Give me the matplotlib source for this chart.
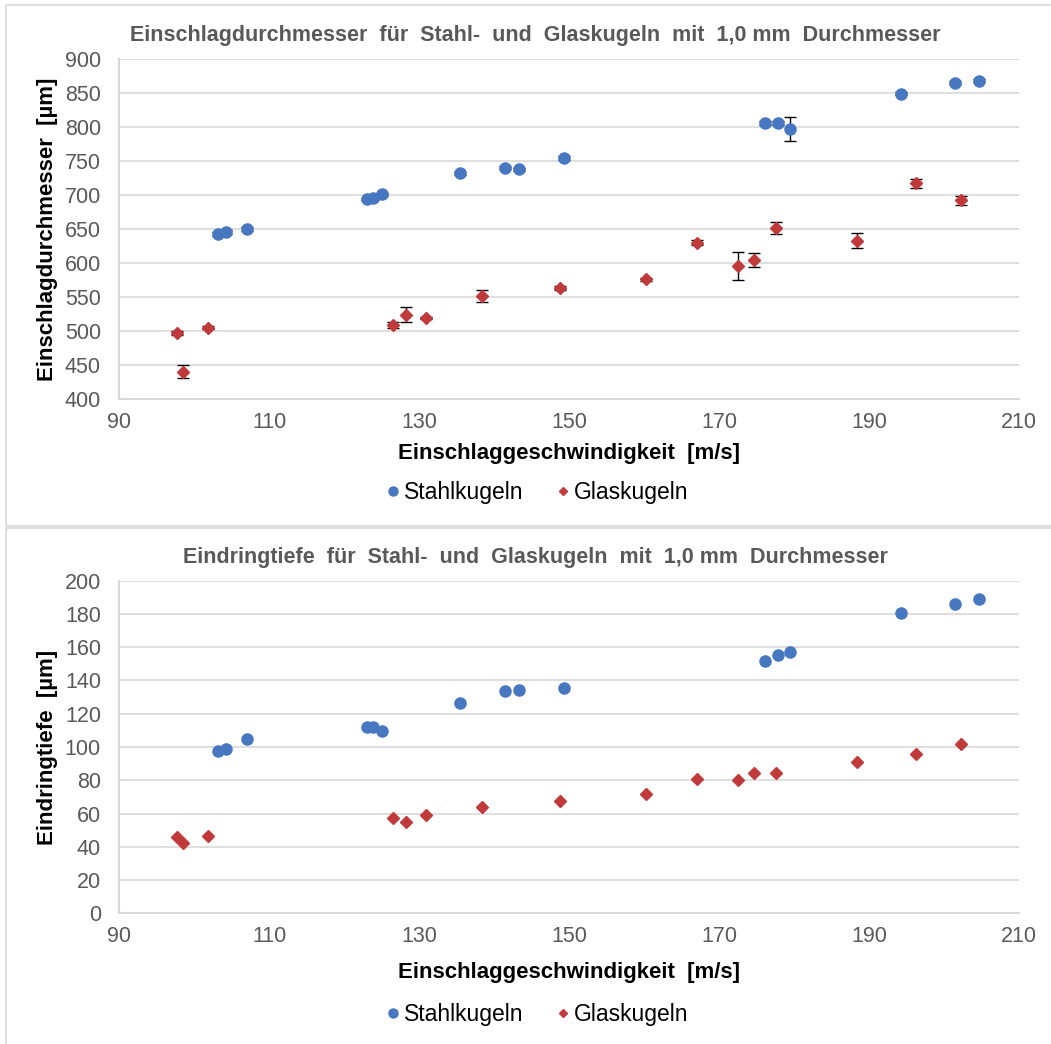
import numpy as np
import matplotlib.pyplot as plt
from matplotlib.lines import Line2D
from matplotlib.patches import Rectangle

plt.rcParams['font.family'] = ['Liberation Sans', 'DejaVu Sans']

# impact velocities [m/s]
v_steel = [103.2, 104.2, 107.1, 123.1, 123.9, 125.1, 135.5, 141.5, 143.3, 149.3,
           176.1, 177.8, 179.5, 194.3, 201.5, 204.7]
v_glass = [97.7, 98.5, 101.9, 126.5, 128.3, 130.9, 138.4, 148.8, 160.2, 167.1,
           172.5, 174.6, 177.6, 188.4, 196.2, 202.3]

# crater diameter [um] with error
d_steel = [642, 646, 650, 694, 695, 701, 732, 740, 738, 755,
           806, 806, 797, 849, 865, 868]
d_steel_err = [3, 3, 3, 2, 2, 2, 2, 2, 2, 3,
               3, 3, 17, 2, 2, 2]
d_glass = [497, 440, 505, 509, 524, 519, 551, 563, 576, 630,
           595, 604, 651, 633, 717, 692]
d_glass_err = [3, 9.5, 2, 4, 11, 2, 9, 3, 2, 4,
               20.5, 10, 9, 10.5, 7, 7]

# penetration depth [um]
t_steel = [97.6, 98.6, 104.6, 111.8, 111.8, 109.4, 126.6, 133.7, 134.5, 135.3,
           151.7, 155.5, 157.1, 180.6, 186.2, 189.2]
t_glass = [45.7, 42.5, 46.5, 57.5, 54.9, 58.9, 63.7, 67.7, 71.5, 80.8,
           80.2, 84.2, 84.2, 91.0, 95.8, 102.0]

blue = '#4677c0'
red = '#c0393b'
grey_txt = '#595959'
grid_c = '#d9d9d9'

W, H = 1051, 1044
fig = plt.figure(figsize=(W / 100, H / 100), dpi=100)

# chart frames
fig.patches.append(Rectangle((6 / W, 1 - 526 / H), 1.0, 521 / H, transform=fig.transFigure,
                             fill=False, edgecolor=grid_c, lw=1.2))
fig.patches.append(Rectangle((6 / W, -0.01), 1.0, 1 - 526 / H + 0.008, transform=fig.transFigure,
                             fill=False, edgecolor=grid_c, lw=1.2))

ax1 = fig.add_axes([119 / W, 1 - 399 / H, 900 / W, 340 / H])
ax2 = fig.add_axes([119 / W, 1 - 913.3 / H, 900 / W, 332.6 / H])


def style(ax, ylim, step):
    ax.set_xlim(90, 210)
    ax.set_xticks(np.arange(90, 211, 20))
    ax.set_ylim(*ylim)
    ax.set_yticks(np.arange(ylim[0], ylim[1] + 1, step))
    for s in ['top', 'right']:
        ax.spines[s].set_visible(False)
    for s in ['left', 'bottom']:
        ax.spines[s].set_color(grid_c)
        ax.spines[s].set_linewidth(1.5)
    ax.grid(axis='y', color=grid_c, lw=1.2)
    ax.set_axisbelow(True)
    ax.tick_params(length=0, labelsize=15.5, labelcolor=grey_txt)
    ax.tick_params(axis='y', pad=13)
    ax.tick_params(axis='x', pad=9)


style(ax1, (400, 900), 50)
ax1.errorbar(v_steel, d_steel, yerr=d_steel_err, fmt='o', color=blue, ms=8,
             ecolor='black', elinewidth=1, capsize=4.5, capthick=1, zorder=3)
ax1.errorbar(v_glass, d_glass, yerr=d_glass_err, fmt='D', color=red, ms=5.8,
             ecolor='black', elinewidth=1, capsize=4.5, capthick=1, zorder=3)
fig.text(0.509, 1 - 35 / H, 'Einschlagdurchmesser  für  Stahl-  und  Glaskugeln  mit  1,0 mm  Durchmesser',
         ha='center', va='center', fontsize=15.5, fontweight='bold', color=grey_txt)
ax1.set_xlabel('Einschlaggeschwindigkeit  [m/s]', fontsize=16, fontweight='bold')
ax1.set_ylabel('Einschlagdurchmesser  [µm]', fontsize=16, fontweight='bold')
ax1.xaxis.set_label_coords(0.5, -0.128)
ax1.yaxis.set_label_coords(-0.068, 0.5)

style(ax2, (0, 200), 20)
ax2.plot(v_steel, t_steel, 'o', color=blue, ms=8, zorder=3)
ax2.plot(v_glass, t_glass, 'D', color=red, ms=5.8, zorder=3)
fig.text(0.509, 1 - 557 / H, 'Eindringtiefe  für  Stahl-  und  Glaskugeln  mit  1,0 mm  Durchmesser',
         ha='center', va='center', fontsize=15.5, fontweight='bold', color=grey_txt)
ax2.set_xlabel('Einschlaggeschwindigkeit  [m/s]', fontsize=16, fontweight='bold')
ax2.set_ylabel('Eindringtiefe  [µm]', fontsize=16, fontweight='bold')
ax2.xaxis.set_label_coords(0.5, -0.145)
ax2.yaxis.set_label_coords(-0.068, 0.5)

handles = [Line2D([], [], marker='o', ls='', color=blue, ms=6.5, label='Stahlkugeln'),
           Line2D([], [], marker='D', ls='', color=red, ms=4.5, label='Glaskugeln')]
for yc in (1 - 493 / H, 1 - 1015 / H):
    fig.legend(handles=handles, loc='center', bbox_to_anchor=(0.509, yc), ncol=2,
               frameon=False, fontsize=16.5, handletextpad=0.0, columnspacing=1.2,
               handlelength=1.0)

fig.savefig('out.png', dpi=100)
